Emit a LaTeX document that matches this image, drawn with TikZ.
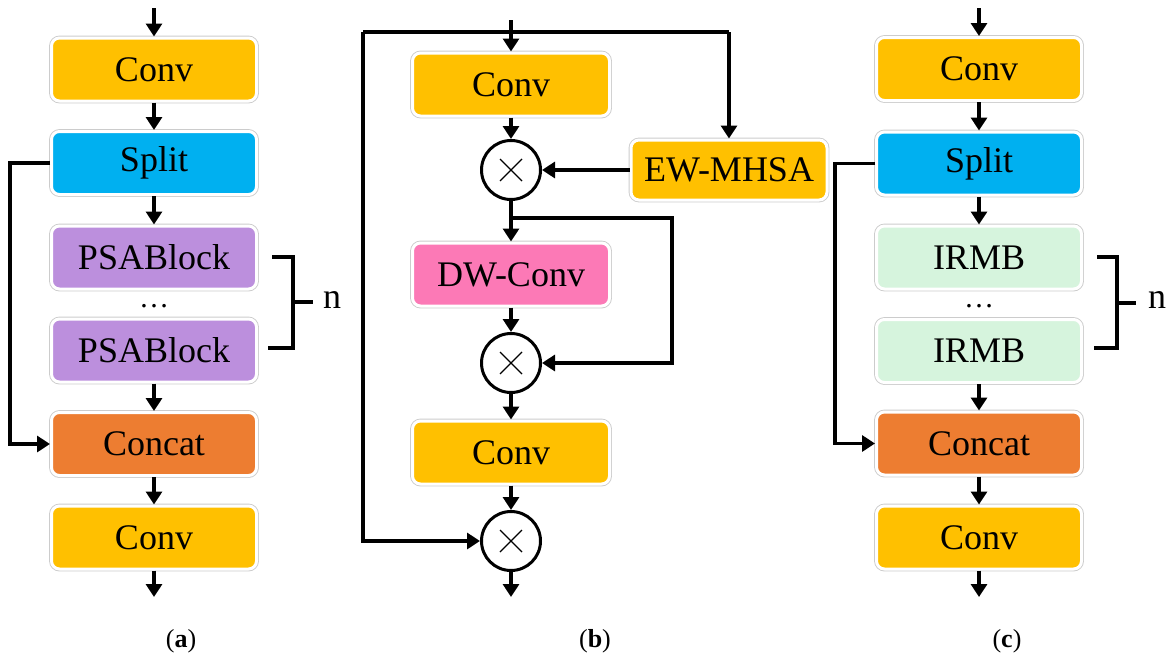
\documentclass[tikz,border=0pt]{standalone}
\usepackage{fontspec}
\setmainfont{Liberation Serif}
\usetikzlibrary{arrows.meta}
\definecolor{convc}{RGB}{255,192,0}
\definecolor{splitc}{RGB}{0,176,240}
\definecolor{psac}{RGB}{188,143,221}
\definecolor{concatc}{RGB}{237,125,49}
\definecolor{dwc}{RGB}{252,121,182}
\definecolor{irmbc}{RGB}{214,244,221}
\tikzset{
  blk/.style={rectangle, rounded corners=8pt, draw=white, line width=3pt,
    preaction={draw=black!20, line width=4.8pt},
    minimum width=205pt, minimum height=63pt, inner sep=0pt,
    font=\fontsize{36}{40}\selectfont, text=black},
  ln/.style={line width=3.2pt, draw=black},
  arr/.style={ln, -{Triangle[length=13pt,width=16pt]}},
  mul/.style={circle, draw=black, line width=3pt, fill=white, minimum size=59pt, inner sep=0pt,
    path picture={\draw[line width=1.2pt]
      ([xshift=-11pt,yshift=-11pt]path picture bounding box.center) -- ([xshift=11pt,yshift=11pt]path picture bounding box.center)
      ([xshift=-11pt,yshift=11pt]path picture bounding box.center) -- ([xshift=11pt,yshift=-11pt]path picture bounding box.center);}},
  nlbl/.style={font=\fontsize{36}{40}\selectfont, inner sep=0pt},
  dotlbl/.style={font=\fontsize{30}{34}\selectfont, inner sep=0pt},
  captxt/.style={font=\fontsize{26}{30}\selectfont, inner sep=0pt}
}
\begin{document}
\begin{tikzpicture}[x=1pt,y=-1pt]
\useasboundingbox (0,0) rectangle (1174,664);
% ---------- panel (a) ----------
\node[blk, fill=convc] (convA1) at (154,69.5) {Conv};
\node[blk, fill=splitc] (splitA) at (154,163) {Split};
\node[blk, fill=psac] (psaA1) at (154,257.5) {PSABlock};
\node[dotlbl] (dotsA) at (154,306) {\ldots};
\node[blk, fill=psac] (psaA2) at (154,350.5) {PSABlock};
\node[blk, fill=concatc] (concatA) at (154,444) {Concat};
\node[blk, fill=convc] (convA2) at (154,537.5) {Conv};
\coordinate (inA) at (154,8);
\coordinate (outA) at (154,597);
\coordinate (la) at (10,163);
\draw[arr] (inA) -- (convA1.north);
\draw[arr] (convA1.south) -- (splitA.north);
\draw[arr] (splitA.south) -- (psaA1.north);
\draw[arr] (psaA2.south) -- (concatA.north);
\draw[arr] (concatA.south) -- (convA2.north);
\draw[arr] (convA2.south) -- (outA);
\draw[arr] (splitA.west) -- (splitA.west -| la) |- (concatA.west);
\coordinate (bA1) at (272,257);
\coordinate (bA2) at (293,257);
\coordinate (bA3) at (293,348);
\coordinate (bA4) at (268,348);
\coordinate (bA5) at (293,302);
\coordinate (bA6) at (313,302);
\draw[ln] (bA1) -- (bA2) -- (bA3) -- (bA4);
\draw[ln] (bA5) -- (bA6);
\node[nlbl] (nA) at (332,300) {n};
\node[captxt] (capA) at (181,641) {(\textbf{a})};
% ---------- panel (b) ----------
\node[blk, fill=convc, minimum width=197pt] (convB1) at (511,84.5) {Conv};
\node[mul] (c1) at (511,170) {};
\node[blk, fill=convc, minimum width=196pt, minimum height=60pt] (ew) at (729,170) {EW-MHSA};
\node[blk, fill=dwc, minimum width=197pt] (dwB) at (511,274.5) {DW-Conv};
\node[mul] (c2) at (511,363) {};
\node[blk, fill=convc, minimum width=197pt] (convB2) at (511,452.5) {Conv};
\node[mul] (c3) at (511,541) {};
\coordinate (inB) at (511,20);
\coordinate (outB) at (511,597);
\coordinate (tl) at (363,32);
\coordinate (tr) at (729,32);
\coordinate (j1) at (511,218);
\coordinate (r1) at (672,218);
\draw[ln] (tl) -- (tr);
\draw[arr] (inB) -- (convB1.north);
\draw[arr] (tr) -- (ew.north);
\draw[arr] (tl) |- (c3.west);
\draw[arr] (convB1.south) -- (c1.north);
\draw[arr] (ew.west) -- (c1.east);
\draw[arr] (c1.south) -- (dwB.north);
\draw[arr] (j1) -- (r1) |- (c2.east);
\draw[arr] (dwB.south) -- (c2.north);
\draw[arr] (c2.south) -- (convB2.north);
\draw[arr] (convB2.south) -- (c3.north);
\draw[arr] (c3.south) -- (outB);
\node[captxt] (capB) at (595,641) {(\textbf{b})};
% ---------- panel (c) ----------
\node[blk, fill=convc] (convC1) at (979,69) {Conv};
\node[blk, fill=splitc] (splitC) at (979,163.5) {Split};
\node[blk, fill=irmbc] (irC1) at (979,257.5) {IRMB};
\node[dotlbl] (dotsC) at (979,306) {\ldots};
\node[blk, fill=irmbc] (irC2) at (979,351) {IRMB};
\node[blk, fill=concatc] (concatC) at (979,443.5) {Concat};
\node[blk, fill=convc] (convC2) at (979,537.5) {Conv};
\coordinate (inC) at (979,8);
\coordinate (outC) at (979,597);
\coordinate (lc) at (835,163);
\draw[arr] (inC) -- (convC1.north);
\draw[arr] (convC1.south) -- (splitC.north);
\draw[arr] (splitC.south) -- (irC1.north);
\draw[arr] (irC2.south) -- (concatC.north);
\draw[arr] (concatC.south) -- (convC2.north);
\draw[arr] (convC2.south) -- (outC);
\draw[arr] (splitC.west) -- (splitC.west -| lc) |- (concatC.west);
\coordinate (bC1) at (1097,257);
\coordinate (bC2) at (1117,257);
\coordinate (bC3) at (1117,348);
\coordinate (bC4) at (1094,348);
\coordinate (bC5) at (1117,303);
\coordinate (bC6) at (1136,303);
\draw[ln] (bC1) -- (bC2) -- (bC3) -- (bC4);
\draw[ln] (bC5) -- (bC6);
\node[nlbl] (nC) at (1157,300) {n};
\node[captxt] (capC) at (1007,641) {(\textbf{c})};
\end{tikzpicture}
\end{document}
